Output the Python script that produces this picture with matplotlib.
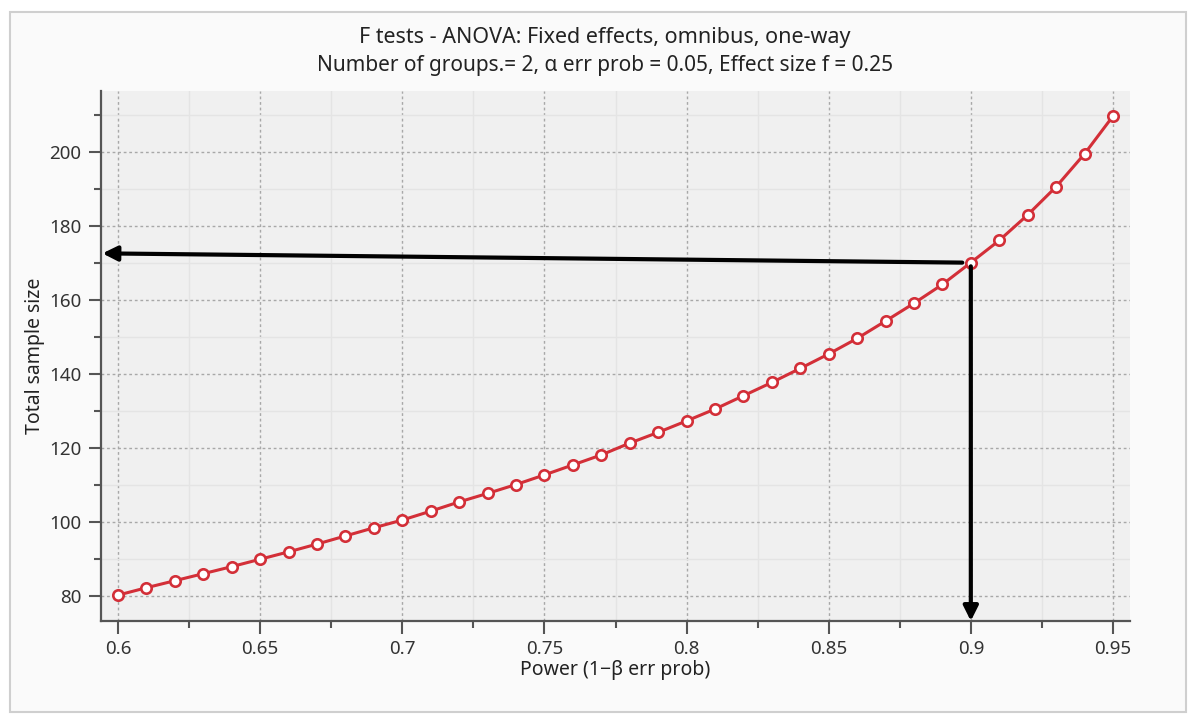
import matplotlib.pyplot as plt
from matplotlib.patches import Rectangle
from matplotlib.ticker import FixedLocator, MultipleLocator

plt.rcParams['font.family'] = ['Noto Sans', 'DejaVu Sans']

power = [0.60, 0.61, 0.62, 0.63, 0.64, 0.65, 0.66, 0.67, 0.68, 0.69,
         0.70, 0.71, 0.72, 0.73, 0.74, 0.75, 0.76, 0.77, 0.78, 0.79,
         0.80, 0.81, 0.82, 0.83, 0.84, 0.85, 0.86, 0.87, 0.88, 0.89,
         0.90, 0.91, 0.92, 0.93, 0.94, 0.95]
total_n = [80.2, 82.2, 84.1, 86.0, 87.9, 89.9, 91.9, 94.0, 96.2, 98.4,
           100.5, 102.9, 105.4, 107.7, 110.1, 112.7, 115.4, 118.1, 121.3, 124.2,
           127.3, 130.5, 134.1, 137.7, 141.5, 145.4, 149.6, 154.3, 159.1, 164.2,
           170.1, 176.1, 183.0, 190.6, 199.5, 209.7]

x_ticks = [0.6, 0.65, 0.7, 0.75, 0.8, 0.85, 0.9, 0.95]
x_tick_labels = ['0.6', '0.65', '0.7', '0.75', '0.8', '0.85', '0.9', '0.95']
y_ticks = [80, 100, 120, 140, 160, 180, 200]

title = "F tests - ANOVA: Fixed effects, omnibus, one-way"
subtitle = "Number of groups.= 2, α err prob = 0.05, Effect size f = 0.25"
x_label = "Power (1−β err prob)"
y_label = "Total sample size"

target_power = 0.9   # where the arrows are drawn
arrow_tilt = 2.5     # the hand drawn arrow rises a little to the left

# --- figure ---
fig = plt.figure(figsize=(11.98, 7.22), dpi=100, facecolor='white')
panel = Rectangle((10 / 1198, 10 / 722), 1176 / 1198, 700 / 722,
                  transform=fig.transFigure, facecolor='#fafafa',
                  edgecolor='#cfcfcf', lw=1.5, zorder=-10)
fig.add_artist(panel)

ax = fig.add_axes([101 / 1198, 1 - 621 / 722, 1029 / 1198, 530 / 722])
ax.set_facecolor('#f0f0f0')

ax.plot(power, total_n, color='#d32f38', lw=2.2, marker='o', ms=7.5,
        mfc='white', mec='#d32f38', mew=1.9, zorder=3)

ax.set_xlim(0.594, 0.956)
ax.set_ylim(73.2, 216.5)

ax.xaxis.set_major_locator(FixedLocator(x_ticks))
ax.set_xticklabels(x_tick_labels)
ax.xaxis.set_minor_locator(MultipleLocator(0.025))
ax.yaxis.set_major_locator(FixedLocator(y_ticks))
ax.yaxis.set_minor_locator(MultipleLocator(10))

ax.grid(which='major', color='#a8a8a8', ls=(0, (2, 2)), lw=1)
ax.grid(which='minor', color='#e4e4e4', ls='-', lw=1)
ax.set_axisbelow(True)

for side in ['top', 'right']:
    ax.spines[side].set_visible(False)
for side in ['left', 'bottom']:
    ax.spines[side].set_color('#555555')
    ax.spines[side].set_linewidth(1.6)

ax.tick_params(which='major', direction='out', length=9, width=1.5,
               color='#555555', labelsize=13.5, labelcolor='#333333', pad=5)
ax.tick_params(which='minor', direction='out', length=5, width=1.5,
               color='#555555')

ax.set_xlabel(x_label, fontsize=14, color='#222222', labelpad=1)
ax.set_ylabel(y_label, fontsize=14, color='#222222', labelpad=3)

fig.text(0.505, 1 - 37 / 722, title, ha='center', va='center',
         fontsize=15.5, color='#222222')
fig.text(0.505, 1 - 66 / 722, subtitle, ha='center', va='center',
         fontsize=15, color='#222222')

# arrows from the 0.9 point to both axes
n_target = total_n[power.index(target_power)]
x0, x1 = ax.get_xlim()
y0, y1 = ax.get_ylim()
arrow_kw = dict(arrowstyle='-|>', color='black', lw=3, mutation_scale=22,
                shrinkA=0, shrinkB=0)
ax.annotate('', xy=(x0 + 0.0005, n_target + arrow_tilt),
            xytext=(target_power - 0.003, n_target),
            arrowprops=arrow_kw, zorder=4, annotation_clip=False)
ax.annotate('', xy=(target_power, y0), xytext=(target_power, n_target - 1),
            arrowprops=arrow_kw, zorder=4, annotation_clip=False)

fig.savefig('out.png', dpi=100, facecolor=fig.get_facecolor())
